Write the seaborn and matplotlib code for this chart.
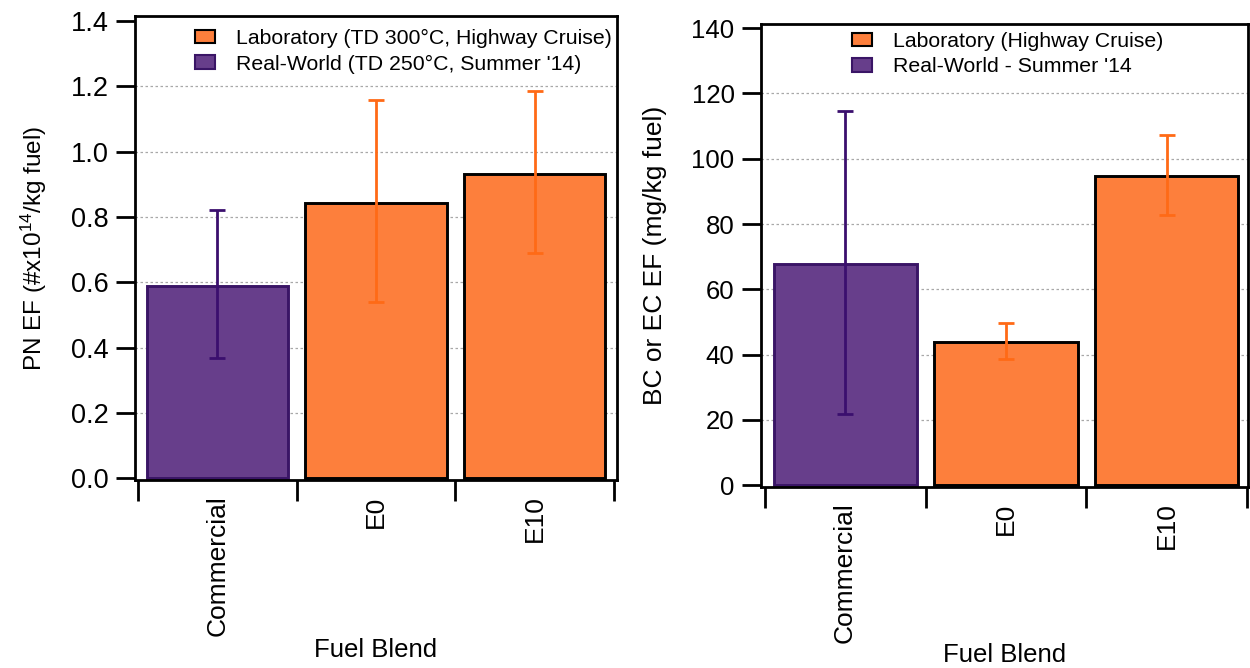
import matplotlib
matplotlib.use("Agg")
import matplotlib.pyplot as plt
from matplotlib.patches import Patch
import numpy as np
import pandas as pd
import seaborn as sns

# ---------------- data ----------------
categories = ["Commercial", "E0", "E10"]
groups_pn = ["Real-World (TD 250°C, Summer '14)",
             "Laboratory (TD 300°C, Highway Cruise)",
             "Laboratory (TD 300°C, Highway Cruise)"]
groups_bc = ["Real-World - Summer '14",
             "Laboratory (Highway Cruise)",
             "Laboratory (Highway Cruise)"]

pn_mean = [0.590, 0.842, 0.931]
pn_low = [0.367, 0.539, 0.691]
pn_high = [0.820, 1.157, 1.184]

bc_mean = [67.7, 43.7, 94.6]
bc_low = [21.7, 38.6, 82.8]
bc_high = [114.5, 49.8, 107.3]

pn_yticks = [0.0, 0.2, 0.4, 0.6, 0.8, 1.0, 1.2, 1.4]
bc_yticks = [0, 20, 40, 60, 80, 100, 120, 140]

# ---------------- style ----------------
ORANGE = "#fd7f3c"
PURPLE = "#673e8b"
PURPLE_EDGE = "#3a1566"
ORANGE_ERR = "#ff6a16"
PURPLE_ERR = "#3b0f6e"

sns.set_theme(style="white")
plt.rcParams["font.family"] = ["Liberation Sans", "DejaVu Sans"]
plt.rcParams["mathtext.fontset"] = "custom"
plt.rcParams["mathtext.rm"] = "Liberation Sans"
plt.rcParams["mathtext.it"] = "Liberation Sans:italic"
plt.rcParams["axes.edgecolor"] = "black"
plt.rcParams["axes.labelcolor"] = "black"
plt.rcParams["text.color"] = "black"

W, H = 1250, 668
fig = plt.figure(figsize=(W / 100, H / 100), dpi=100)
fig.patch.set_facecolor("white")


def panel(rect, means, lows, highs, groups, yticks, ylim, xlim, ylabel,
          legend_xy, legend_fs, ylabel_x, xlabel_y, ytick_fs, ylabel_fs):
    ax = fig.add_axes(rect)
    df = pd.DataFrame({"Fuel": categories, "Value": means, "Group": groups})
    lab = [g for g in groups if g.startswith("Lab")][0]
    rw = [g for g in groups if g.startswith("Real")][0]
    sns.barplot(data=df, x="Fuel", y="Value", hue="Group", order=categories,
                hue_order=[lab, rw], palette={lab: ORANGE, rw: PURPLE},
                dodge=False, width=0.89, errorbar=None, saturation=1,
                edgecolor="black", linewidth=2.1, legend=False, ax=ax,
                zorder=2)
    for p in ax.patches:
        cx = p.get_x() + p.get_width() / 2
        if groups[int(round(cx))] == rw:
            p.set_edgecolor(PURPLE_EDGE)
    # asymmetric error bars
    for i, (m, lo, hi, g) in enumerate(zip(means, lows, highs, groups)):
        col = PURPLE_ERR if g == rw else ORANGE_ERR
        ax.errorbar(i, m, yerr=[[m - lo], [hi - m]], fmt="none", ecolor=col,
                    elinewidth=2.0, capsize=6, capthick=2.0, zorder=4)
    ax.set_ylim(*ylim)
    ax.set_xlim(*xlim)
    # dotted gridlines at interior ticks
    for t in yticks[1:-1]:
        ax.axhline(t, color="#a8a8a8", lw=0.9, ls=(0, (2, 2)), zorder=1)
    ax.set_yticks(yticks)
    if isinstance(yticks[1], float):
        ax.set_yticklabels([f"{t:.1f}" for t in yticks])
    ax.tick_params(axis="y", which="major", direction="out", length=14,
                   width=2, labelsize=ytick_fs, pad=5, left=True,
                   colors="black")
    # category boundaries as major ticks, names on minor ticks
    ax.set_xticks(np.arange(len(categories) + 1) - 0.5)
    ax.set_xticklabels([])
    ax.set_xticks(np.arange(len(categories)), minor=True)
    ax.set_xticklabels(categories, minor=True, rotation=90, va="top",
                       ha="center")
    ax.tick_params(axis="x", which="major", direction="out", length=15,
                   width=2, bottom=True, colors="black")
    ax.tick_params(axis="x", which="minor", length=0, pad=11, labelsize=19,
                   colors="black")
    for s in ax.spines.values():
        s.set_visible(True)
        s.set_linewidth(2.0)
        s.set_color("black")
    ax.set_xlabel("Fuel Blend", fontsize=18.5, color="black")
    ax.xaxis.set_label_coords(0.5, xlabel_y)
    ax.xaxis.label.set_va("center")
    ax.set_ylabel(ylabel, fontsize=ylabel_fs, color="black")
    ax.yaxis.set_label_coords(ylabel_x, 0.5)
    ax.yaxis.label.set_va("center")
    handles = [Patch(facecolor=ORANGE, edgecolor="black", linewidth=1.5,
                     label=lab),
               Patch(facecolor=PURPLE, edgecolor=PURPLE_EDGE, linewidth=1.5,
                     label=rw)]
    ax.legend(handles=handles, loc="upper left",
              bbox_to_anchor=(legend_xy[0] / W, 1 - legend_xy[1] / H),
              bbox_transform=fig.transFigure, frameon=False, fontsize=legend_fs,
              handlelength=0.95, handleheight=0.62, handletextpad=1.0,
              labelspacing=0.3, borderpad=0, borderaxespad=0,
              labelcolor="black")
    return ax


ax1 = panel([135 / W, 1 - 480 / H, (617 - 135) / W, (480 - 16) / H],
            pn_mean, pn_low, pn_high, groups_pn, pn_yticks,
            (-0.005, 1.415), (-0.52, 2.52),
            r"PN EF (#x10$^{\mathrm{14}}$/kg fuel)",
            (195, 29), 15.3, -0.21, -0.366, 19.5, 17.5)

ax2 = panel([761 / W, 1 - 487 / H, (1248 - 761) / W, (487 - 24) / H],
            bc_mean, bc_low, bc_high, groups_bc, bc_yticks,
            (-0.6, 141.3), (-0.523, 2.505),
            "BC or EC EF (mg/kg fuel)",
            (852, 32), 15.3, -0.217, -0.363, 18.5, 19)

fig.savefig("out.png", dpi=100, facecolor="white")
